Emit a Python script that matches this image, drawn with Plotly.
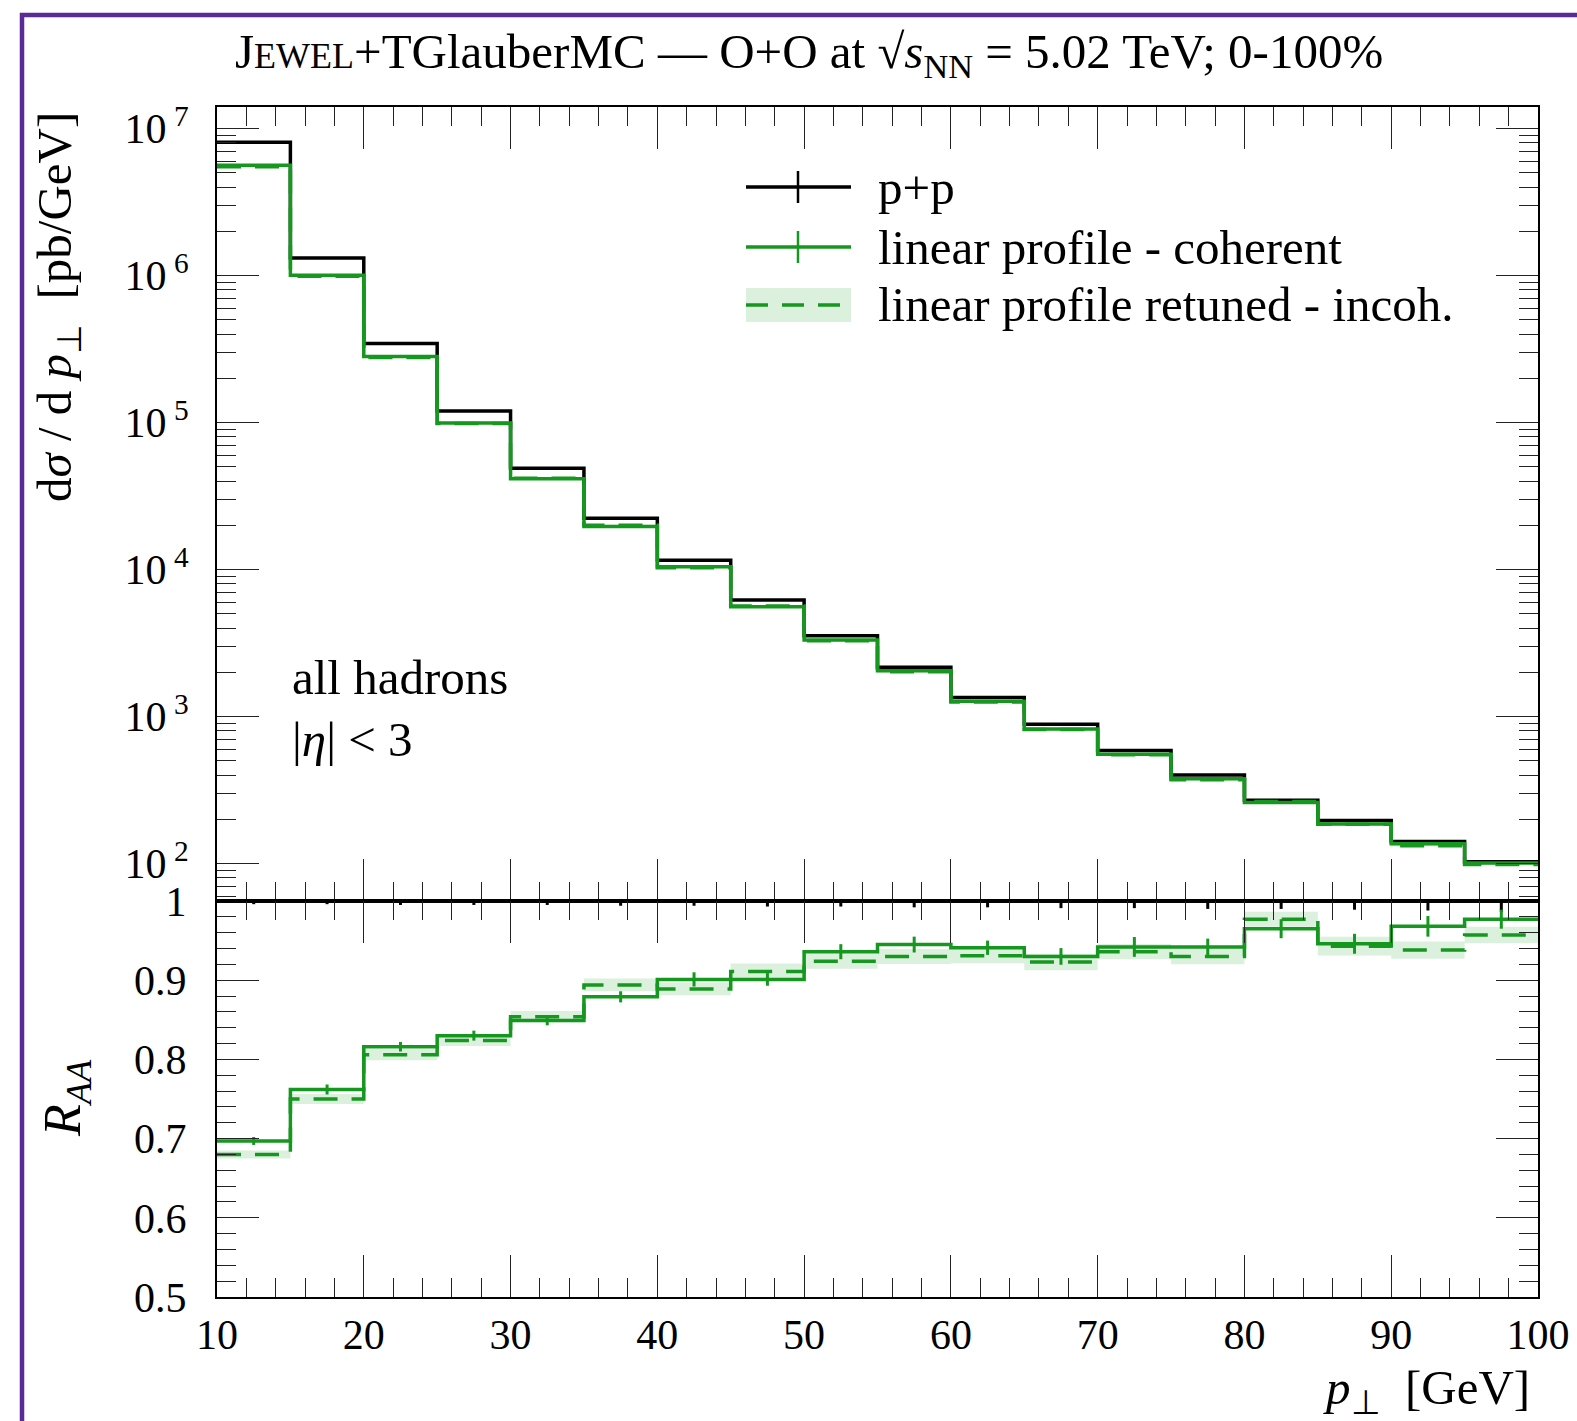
import numpy as np
import plotly.graph_objects as go

# ---- data -----------------------------------------------------------------
pt_edges = [10, 15, 20, 25, 30, 35, 40, 45, 50, 55, 60, 65, 70, 75, 80, 85, 90, 95, 100]

# p+p reference spectrum [pb/GeV] and its relative stat. uncertainty
pp_xsec = [8.1e6, 1.32e6, 3.45e5, 1.2e5, 4.9e4, 2.24e4, 1.16e4, 6.2e3, 3.55e3,
           2.17e3, 1.35e3, 885, 588, 400, 270, 196, 141, 103]
pp_relerr = [0.004, 0.004, 0.005, 0.005, 0.005, 0.006, 0.006, 0.007, 0.007,
             0.008, 0.008, 0.009, 0.009, 0.010, 0.010, 0.011, 0.012, 0.014]

# nuclear modification factor, linear profile - coherent
raa_coh = [0.697, 0.762, 0.816, 0.830, 0.849, 0.879, 0.901, 0.901, 0.936,
           0.945, 0.941, 0.930, 0.942, 0.942, 0.965, 0.946, 0.968, 0.977]
raa_coh_err = [0.005, 0.0063, 0.006, 0.0063, 0.006, 0.007, 0.009, 0.008, 0.0095,
               0.010, 0.009, 0.0105, 0.0125, 0.0105, 0.012, 0.0126, 0.013, 0.012]

# nuclear modification factor, linear profile retuned - incoherent
raa_incoh = [0.680, 0.750, 0.806, 0.824, 0.854, 0.894, 0.889, 0.911, 0.924,
             0.930, 0.931, 0.923, 0.936, 0.930, 0.977, 0.943, 0.938, 0.957]
raa_incoh_err = [0.005, 0.0063, 0.007, 0.007, 0.007, 0.008, 0.008, 0.010, 0.0097,
                 0.0095, 0.0095, 0.0105, 0.0097, 0.0099, 0.0095, 0.0118, 0.011, 0.0105]

# axis tick labels
spec_tickvals = [1e2, 1e3, 1e4, 1e5, 1e6, 1e7]
spec_ticktext = ["10<sup> 2</sup>", "10<sup> 3</sup>", "10<sup> 4</sup>",
                 "10<sup> 5</sup>", "10<sup> 6</sup>", "10<sup> 7</sup>"]
ratio_tickvals = [0.5, 0.6, 0.7, 0.8, 0.9, 1.0]
ratio_ticktext = ["0.5", "0.6", "0.7", "0.8", "0.9", "1"]

# ---- styling --------------------------------------------------------------
FONT = "Liberation Serif"
GREEN = "#16971f"
BAND = "rgba(22,151,31,0.15)"
PURPLE = "#5a2a97"
LW = 3.5
TXT = 49

edges = np.array(pt_edges, dtype=float)
centers = 0.5 * (edges[:-1] + edges[1:])
pp = np.array(pp_xsec)
coh = pp * np.array(raa_coh)
incoh = pp * np.array(raa_incoh)


def step(vals):
    v = list(vals)
    return list(edges), v + [v[-1]]


def band(lo, hi):
    xs, ys = [], []
    for i in range(len(lo)):
        xs += [edges[i], edges[i + 1]]
        ys += [hi[i], hi[i]]
    for i in reversed(range(len(lo))):
        xs += [edges[i + 1], edges[i]]
        ys += [lo[i], lo[i]]
    return xs, ys


fig = go.Figure()


def add_hist(vals, color, dash, xa, ya):
    x, y = step(vals)
    fig.add_trace(go.Scatter(x=x, y=y, mode="lines", line_shape="hv",
                             line=dict(color=color, width=LW, dash=dash),
                             xaxis=xa, yaxis=ya, showlegend=False, hoverinfo="skip"))


def add_err(vals, err, color, xa, ya):
    fig.add_trace(go.Scatter(x=centers, y=vals, mode="markers",
                             marker=dict(size=0.1, color=color),
                             error_y=dict(type="data", array=err, color=color,
                                          thickness=3, width=0),
                             xaxis=xa, yaxis=ya, showlegend=False, hoverinfo="skip"))


def add_band(lo, hi, xa, ya):
    bx, by = band(lo, hi)
    fig.add_trace(go.Scatter(x=bx, y=by, mode="lines", fill="toself",
                             fillcolor=BAND, line=dict(width=0),
                             xaxis=xa, yaxis=ya, showlegend=False, hoverinfo="skip"))


DASH = "24px,14px"

# upper panel: spectra
add_hist(pp, "black", "solid", "x", "y")
add_hist(coh, GREEN, "solid", "x", "y")
inc_err = incoh * np.array(raa_incoh_err) / np.array(raa_incoh)
add_band(incoh - inc_err, incoh + inc_err, "x", "y")
add_hist(incoh, GREEN, DASH, "x", "y")

# lower panel: ratios to p+p
ones = np.ones(len(pp))
add_hist(ones, "black", "solid", "x2", "y2")
add_err(ones, pp_relerr, "black", "x2", "y2")
add_hist(raa_coh, GREEN, "solid", "x2", "y2")
add_err(raa_coh, raa_coh_err, GREEN, "x2", "y2")
ri = np.array(raa_incoh)
re = np.array(raa_incoh_err)
add_band(ri - re, ri + re, "x2", "y2")
add_hist(raa_incoh, GREEN, DASH, "x2", "y2")

# ---- axes -----------------------------------------------------------------
TICKFONT = dict(family=FONT, size=42, color="black")
xcommon = dict(range=[10, 100], tick0=10, dtick=10, ticks="inside", ticklen=42,
               tickwidth=1.3, tickcolor="#222", showline=True, linecolor="black",
               linewidth=2, mirror="allticks", showgrid=False, zeroline=False,
               automargin=False,
               minor=dict(ticks="inside", ticklen=19, tick0=10, dtick=2,
                          tickwidth=1.3, tickcolor="#222", showgrid=False))

split = 396 / 1190
minor_log = [m * 10 ** d for d in range(1, 8) for m in range(2, 10)]

fig.update_layout(
    width=1577, height=1421, autosize=False,
    margin=dict(l=217, r=39, t=107, b=124),
    paper_bgcolor="white", plot_bgcolor="white",
    font=dict(family=FONT, color="black"),
    showlegend=False,
    xaxis=dict(**xcommon, anchor="y", domain=[0, 1], showticklabels=False),
    xaxis2=dict(**xcommon, anchor="y2", domain=[0, 1], matches="x",
                showticklabels=True, tickfont=TICKFONT, ticklabelstandoff=0),
    yaxis=dict(type="log", domain=[split, 1], range=[1.745, 7.148],
               tickmode="array", tickvals=spec_tickvals, ticktext=spec_ticktext,
               ticks="inside", ticklen=42, tickwidth=1.3, tickcolor="#222",
               showline=True, linecolor="black", linewidth=2, mirror="allticks",
               showgrid=False, zeroline=False, tickfont=TICKFONT, ticklabelstandoff=18,
               automargin=False,
               minor=dict(ticks="inside", ticklen=19, tickmode="array", tickvals=minor_log,
                          tickwidth=1.3, tickcolor="#222", showgrid=False)),
    yaxis2=dict(domain=[0, split], range=[0.5, 1.0],
                tickmode="array", tickvals=ratio_tickvals, ticktext=ratio_ticktext,
                ticks="inside", ticklen=42, tickwidth=1.3, tickcolor="#222",
                showline=True, linecolor="black", linewidth=2, mirror="allticks",
                showgrid=False, zeroline=False, tickfont=TICKFONT, ticklabelstandoff=20,
                automargin=False,
                minor=dict(ticks="inside", ticklen=19, tick0=0.5, dtick=0.02,
                           tickwidth=1.3, tickcolor="#222", showgrid=False)),
)

# ---- text -----------------------------------------------------------------
PW, PH, L0, B0 = 1321.0, 1190.0, 217.0, 1297.0


def px(x):
    return (x - L0) / PW


def py(y):
    return (B0 - y) / PH


def text(x, y, s, size=TXT, xanchor="left", yanchor="middle", angle=0):
    fig.add_annotation(x=px(x), y=py(y), xref="paper", yref="paper", text=s,
                       showarrow=False, xanchor=xanchor, yanchor=yanchor,
                       textangle=angle, font=dict(family=FONT, size=size, color="black"))


text(809, 55, "J<span style='font-size:36px'>EWEL</span>+TGlauberMC — O+O at "
     "√<i>s</i><sub>NN</sub> = 5.02 TeV; 0-100%", size=49, xanchor="center")
text(290, 677, "all hadrons")
text(290, 739, "|<i>η</i>| < 3")
text(1532, 1390, "<i>p</i><sub>⊥</sub>  [GeV]", xanchor="right")
text(57, 110, "d<i>σ</i> / d <i>p</i><sub>⊥</sub>  [pb/GeV]", xanchor="center",
     yanchor="top", angle=-90)
text(66, 1098, "<i>R</i><sub><i>AA</i></sub>", size=52, xanchor="center", angle=-90)

# ---- legend ---------------------------------------------------------------
LX0, LX1, LXC, TX = 746, 851, 798, 876
rows = [187, 247, 305]
labels = ["p+p", "linear profile - coherent", "linear profile retuned - incoh."]

shapes = []
shapes.append(dict(type="line", xref="paper", yref="paper",
                   x0=px(LX0), x1=px(LX1), y0=py(rows[0]), y1=py(rows[0]),
                   line=dict(color="black", width=LW)))
shapes.append(dict(type="line", xref="paper", yref="paper",
                   x0=px(LXC), x1=px(LXC), y0=py(rows[0] - 16), y1=py(rows[0] + 16),
                   line=dict(color="black", width=2.5)))
shapes.append(dict(type="line", xref="paper", yref="paper",
                   x0=px(LX0), x1=px(LX1), y0=py(rows[1]), y1=py(rows[1]),
                   line=dict(color=GREEN, width=LW)))
shapes.append(dict(type="line", xref="paper", yref="paper",
                   x0=px(LXC), x1=px(LXC), y0=py(rows[1] - 16), y1=py(rows[1] + 16),
                   line=dict(color=GREEN, width=2.5)))
shapes.append(dict(type="rect", xref="paper", yref="paper",
                   x0=px(LX0), x1=px(LX1), y0=py(rows[2] + 17), y1=py(rows[2] - 17),
                   fillcolor=BAND, line=dict(width=0)))
shapes.append(dict(type="line", xref="paper", yref="paper",
                   x0=px(LX0), x1=px(LX1), y0=py(rows[2]), y1=py(rows[2]),
                   line=dict(color=GREEN, width=LW, dash="22px,14px")))
for r, lab in zip(rows, labels):
    text(TX, r, lab)

# outer frame
shapes.append(dict(type="rect", xref="paper", yref="paper", layer="above",
                   x0=px(22), x1=px(1650), y0=py(1500), y1=py(15),
                   line=dict(color=PURPLE, width=4.5), fillcolor="rgba(0,0,0,0)"))

fig.update_layout(shapes=shapes)

fig.write_html("out.html")
